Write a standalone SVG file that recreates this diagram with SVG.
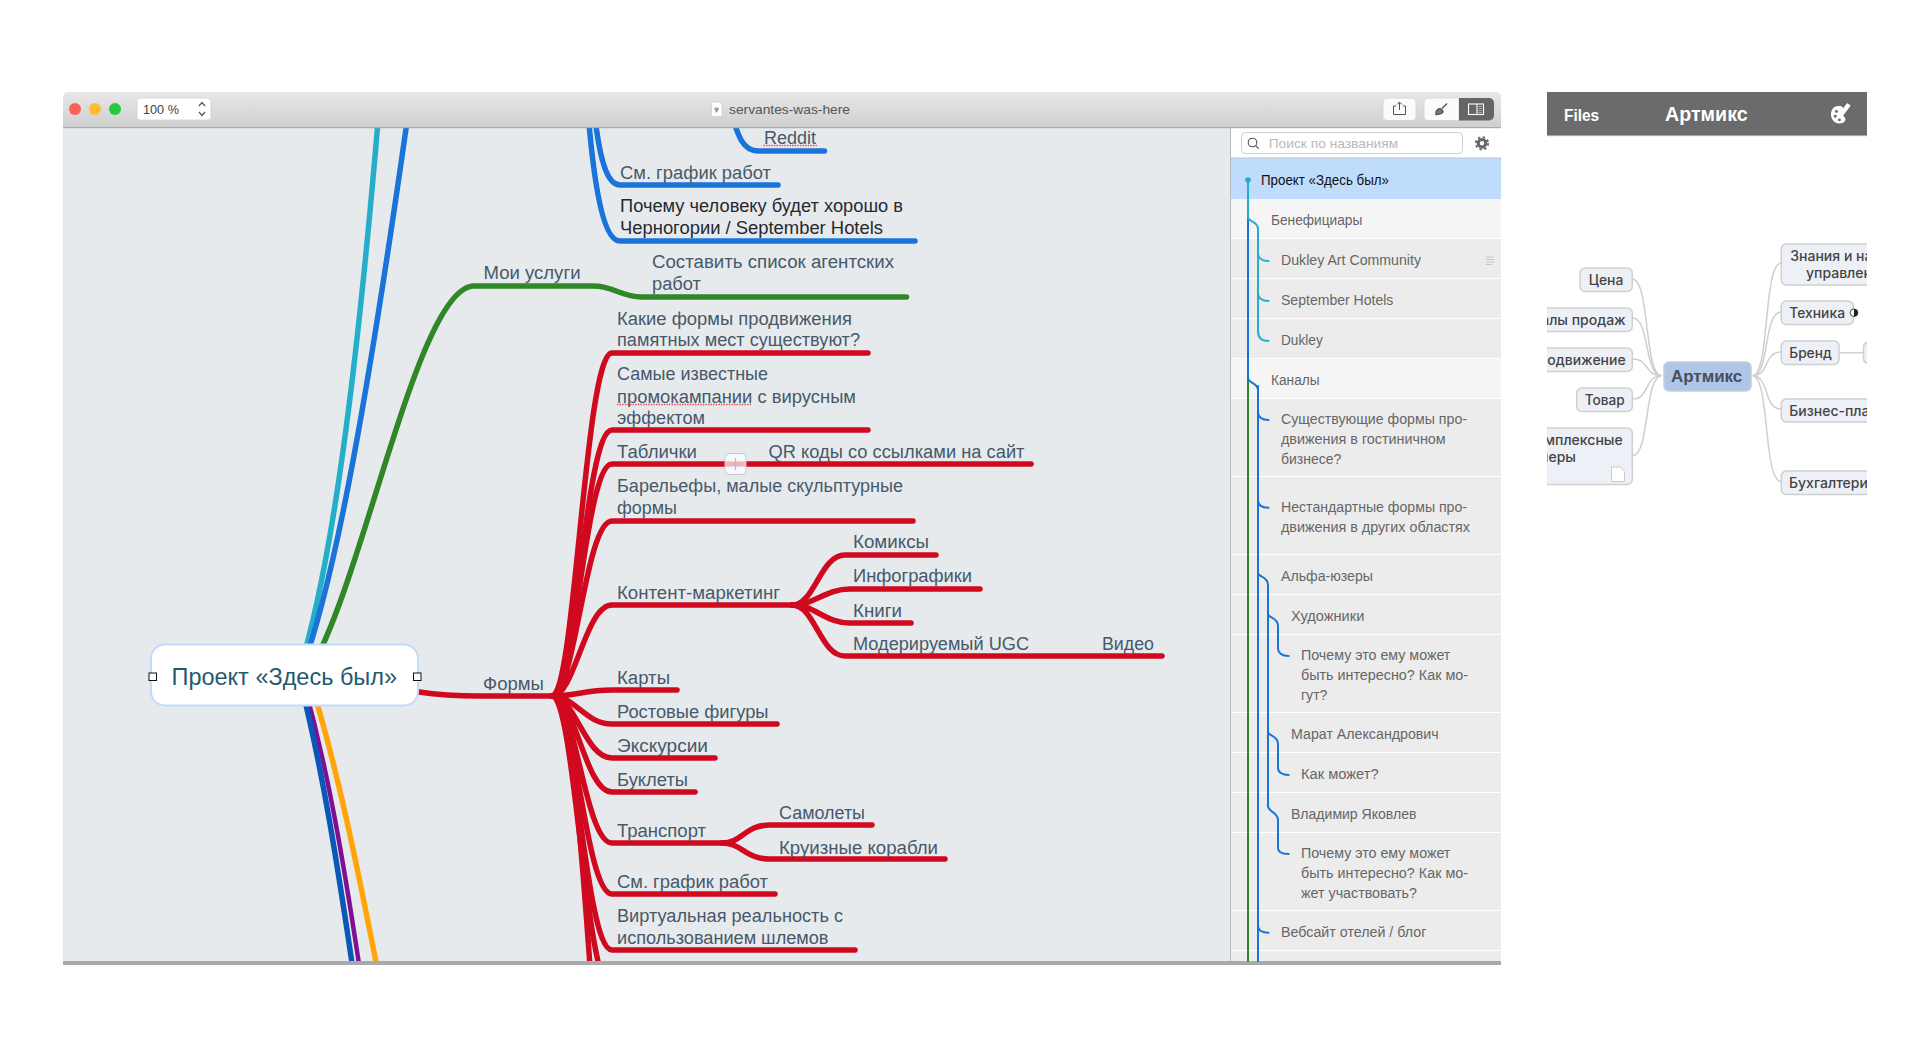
<svg xmlns="http://www.w3.org/2000/svg" width="1930" height="1057" viewBox="0 0 1930 1057">
<style>
text{font-family:"Liberation Sans",Arial,sans-serif}
.m{font-size:18px;fill:#46596a}
.d{font-size:18px;fill:#25292d}
.s{font-size:14px;fill:#666}
.c{fill:none;stroke-width:5.5;stroke-linecap:round;stroke-linejoin:round}
.r{stroke:#d0091f}.b{stroke:#1a73d9}.g{stroke:#2f8728}
.t{fill:none;stroke-width:2;stroke-linecap:round}
.tb{stroke:#1a73d9}.tc{stroke:#25aec9}
.row{fill:#ececec}.row1{fill:#f5f5f5}
.sep{stroke:#fff;stroke-width:1}
.k{fill:#eef0f8;stroke:#cfcfcf;stroke-width:1.5}
.kt{font-family:Inter,"Liberation Sans",sans-serif;font-weight:500;font-size:14px;fill:#444}
.kl{fill:none;stroke:#cfcfcf;stroke-width:1.5}
.u{fill:none;stroke:#e8474c;stroke-width:1.4;stroke-dasharray:1.4 1.2}
</style>
<defs>
<linearGradient id="tbg" x1="0" y1="0" x2="0" y2="1"><stop offset="0" stop-color="#e8e8e8"/><stop offset="1" stop-color="#cecece"/></linearGradient>
<clipPath id="canvas"><rect x="63" y="128" width="1168" height="833"/></clipPath>
<clipPath id="phone"><rect x="1547" y="92" width="320" height="420"/></clipPath>
</defs>
<rect width="1930" height="1057" fill="#fff"/>

<g id="window">
<rect x="63" y="128" width="1168" height="833" fill="#e7eaed"/>
<rect x="1231" y="128" width="270" height="833" fill="#fff"/>
<rect x="63" y="961" width="1438" height="4" fill="#a9a9a9"/>
<rect x="1230" y="128" width="1" height="833" fill="#b9b9b9"/>
</g>

<g id="connectors" clip-path="url(#canvas)">
<path class="c" stroke="#25aec9" d="M298 675C325 590 358 420 392-60"/>
<path class="c b" d="M300 675C332 590 368 420 432-60"/>
<path class="c g" d="M310 670C364 580 418 286 474 286L593 286C615 286 620 297 642 297L906.500 297"/>
<path class="c" stroke="#ffa50a" d="M310 680C335 760 353 840 395 1060"/>
<path class="c" stroke="#800f96" d="M303 680C325 760 342 840 373 1060" style="stroke-width:4.5"/>
<path class="c" stroke="#0a57b8" d="M300 680C320 760 335 840 366 1060"/>
<path class="c b" d="M730 110C738 135 742 151 758 151L824.500 151"/>
<path class="c b" d="M585-60C590 60 592 185 620 185L778 185"/>
<path class="c b" d="M578-100C583 60 590 241 620 241L915 241"/>
<path class="c r" d="M419 692C445 696 470 696 480 696L552 696"/>
<path class="c r" d="M552 696C575 696 585 353 612 353L868 353"/>
<path class="c r" d="M552 696C575 696 585 430 612 430L868 430"/>
<path class="c r" d="M552 696C575 696 585 464 612 464L1031 464"/>
<path class="c r" d="M552 696C575 696 585 521 612 521L913 521"/>
<path class="c r" d="M552 696C575 696 585 605 612 605L792 605"/>
<path class="c r" d="M792 605C815 605 820 555 845 555L936 555"/>
<path class="c r" d="M792 605C815 605 825 589 850 589L980 589"/>
<path class="c r" d="M792 605C815 605 825 623 850 623L911 623"/>
<path class="c r" d="M792 605C815 605 820 656 845 656L1162 656"/>
<path class="c r" d="M552 696C575 696 585 690 612 690L677 690"/>
<path class="c r" d="M552 696C575 696 585 724 612 724L777 724"/>
<path class="c r" d="M552 696C575 696 585 758 612 758L715 758"/>
<path class="c r" d="M552 696C575 696 585 792 612 792L695 792"/>
<path class="c r" d="M552 696C575 696 585 843 612 843L722 843"/>
<path class="c r" d="M722 843C742 843 745 825 770 825L872 825"/>
<path class="c r" d="M722 843C742 843 745 859 770 859L945 859"/>
<path class="c r" d="M552 696C575 696 585 894 612 894L775 894"/>
<path class="c r" d="M552 696C575 696 585 950 612 950L855 950"/>
<path class="c r" d="M552 696C575 696 585 990 612 990L700 990"/>
<path class="c r" d="M552 696C585 696 592 1150 612 1150L700 1150"/>
</g>

<g id="node-root">
<rect x="151" y="644.5" width="267" height="61" rx="14" fill="#fff" stroke="#bfdcff" stroke-width="2"/>
<text x="171.5" y="685" font-size="24" fill="#1f5a6e" textLength="225.5" lengthAdjust="spacingAndGlyphs">Проект «Здесь был»</text>
<rect x="149" y="673" width="7.5" height="7.5" fill="#fff" stroke="#111"/>
<rect x="413.5" y="673" width="7.5" height="7.5" fill="#fff" stroke="#111"/>
</g>

<g id="node-reddit"><text class="m" x="764" y="143.5" textLength="52" lengthAdjust="spacingAndGlyphs">Reddit</text><path class="u" d="M763.500 145.500H817.500"/></g>
<g id="node-blue-grafik"><text class="m" x="620" y="178.500" textLength="151" lengthAdjust="spacingAndGlyphs">См. график работ</text></g>
<g id="node-chernogoria"><text class="d" x="620" y="212" textLength="283" lengthAdjust="spacingAndGlyphs">Почему человеку будет хорошо в</text><text class="d" x="620" y="234" textLength="263" lengthAdjust="spacingAndGlyphs">Черногории / September Hotels</text></g>
<g id="node-uslugi"><text class="m" x="483.500" y="279" textLength="97" lengthAdjust="spacingAndGlyphs">Мои услуги</text></g>
<g id="node-agent"><text class="m" x="652" y="268" textLength="242" lengthAdjust="spacingAndGlyphs">Составить список агентских</text><text class="m" x="652" y="290" textLength="49" lengthAdjust="spacingAndGlyphs">работ</text></g>
<g id="node-kakie"><text class="m" x="617" y="324.500" textLength="235" lengthAdjust="spacingAndGlyphs">Какие формы продвижения</text><text class="m" x="617" y="346" textLength="243" lengthAdjust="spacingAndGlyphs">памятных мест существуют?</text></g>
<g id="node-samye"><text class="m" x="617" y="380" textLength="151" lengthAdjust="spacingAndGlyphs">Самые известные</text><text class="m" x="617" y="402.500" textLength="239" lengthAdjust="spacingAndGlyphs">промокампании с вирусным</text><path class="u" d="M617 404.500H752"/><text class="m" x="617" y="424" textLength="88" lengthAdjust="spacingAndGlyphs">эффектом</text></g>
<g id="node-tablichki"><text class="m" x="617" y="457.500" textLength="80" lengthAdjust="spacingAndGlyphs">Таблички</text></g>
<g id="node-qr"><text class="m" x="768.500" y="457.500" textLength="256" lengthAdjust="spacingAndGlyphs">QR коды со ссылками на сайт</text></g>
<g id="node-barelefy"><text class="m" x="617" y="491.500" textLength="286" lengthAdjust="spacingAndGlyphs">Барельефы, малые скульптурные</text><text class="m" x="617" y="513.500" textLength="60" lengthAdjust="spacingAndGlyphs">формы</text></g>
<g id="node-kontent"><text class="m" x="617" y="598.500" textLength="163" lengthAdjust="spacingAndGlyphs">Контент-маркетинг</text></g>
<g id="node-komiksy"><text class="m" x="853" y="547.500" textLength="76" lengthAdjust="spacingAndGlyphs">Комиксы</text></g>
<g id="node-info"><text class="m" x="853" y="582" textLength="119" lengthAdjust="spacingAndGlyphs">Инфографики</text></g>
<g id="node-knigi"><text class="m" x="853" y="616.500" textLength="49" lengthAdjust="spacingAndGlyphs">Книги</text></g>
<g id="node-ugc"><text class="m" x="853" y="650" textLength="176" lengthAdjust="spacingAndGlyphs">Модерируемый UGC</text></g>
<g id="node-video"><text class="m" x="1102" y="650" textLength="52" lengthAdjust="spacingAndGlyphs">Видео</text></g>
<g id="node-formy"><text class="m" x="483" y="689.500" textLength="61" lengthAdjust="spacingAndGlyphs">Формы</text></g>
<g id="node-karty"><text class="m" x="617" y="683.500" textLength="53" lengthAdjust="spacingAndGlyphs">Карты</text></g>
<g id="node-rostovye"><text class="m" x="617" y="717.500" textLength="151.500" lengthAdjust="spacingAndGlyphs">Ростовые фигуры</text></g>
<g id="node-ekskursii"><text class="m" x="617" y="751.500" textLength="91" lengthAdjust="spacingAndGlyphs">Экскурсии</text></g>
<g id="node-buklety"><text class="m" x="617" y="785.500" textLength="71" lengthAdjust="spacingAndGlyphs">Буклеты</text></g>
<g id="node-samolety"><text class="m" x="779" y="818.500" textLength="86" lengthAdjust="spacingAndGlyphs">Самолеты</text></g>
<g id="node-transport"><text class="m" x="617" y="836.500" textLength="89" lengthAdjust="spacingAndGlyphs">Транспорт</text></g>
<g id="node-korabli"><text class="m" x="779" y="853.500" textLength="159" lengthAdjust="spacingAndGlyphs">Круизные корабли</text></g>
<g id="node-red-grafik"><text class="m" x="617" y="887.500" textLength="151" lengthAdjust="spacingAndGlyphs">См. график работ</text></g>
<g id="node-vr"><text class="m" x="617" y="921.500" textLength="226" lengthAdjust="spacingAndGlyphs">Виртуальная реальность с</text><text class="m" x="617" y="943.500" textLength="211.500" lengthAdjust="spacingAndGlyphs">использованием шлемов</text></g>

<g id="add-button">
<rect x="725" y="453.500" width="21" height="21" rx="4" fill="#fff" fill-opacity=".72" stroke="#c9c9c9"/>
<path d="M729 464H742M735.500 458V470" stroke="#bbb" stroke-width="1.200" fill="none"/>
</g>

<g id="toolbar">
<path d="M63 128V97a5 5 0 0 1 5-5H1496a5 5 0 0 1 5 5V128Z" fill="url(#tbg)"/>
<rect x="63" y="127" width="1438" height="1.200" fill="#ababab"/>
<circle cx="75" cy="109" r="6" fill="#fe5f57"/><circle cx="95" cy="109" r="6" fill="#febb2e"/><circle cx="115" cy="109" r="6" fill="#26c940"/>
<rect x="137" y="98" width="74" height="22" rx="3.500" fill="#fff" stroke="#d0d0d0" stroke-width=".8"/>
<text x="143" y="114" font-size="13.500" fill="#444" textLength="36" lengthAdjust="spacingAndGlyphs">100 %</text>
<path d="M199 106l3-3.500 3 3.500M199 112l3 3.500 3-3.500" fill="none" stroke="#555" stroke-width="1.200"/>
<path d="M711.500 102h7.500l3 3v11.500h-10.500Z" fill="#fff" stroke="#c4c4c4" stroke-width=".6"/>
<path d="M714 108l2.500 5 2.500-5Z" fill="#4a9ad8"/><path d="M714 108l2.500 2 1-3Z" fill="#f0b030"/>
<text x="729" y="114" font-size="13" fill="#555" textLength="121" lengthAdjust="spacingAndGlyphs">servantes-was-here</text>
<rect x="1383" y="98" width="33" height="22.500" rx="4" fill="#fbfbfb" stroke="#d4d4d4" stroke-width=".8"/>
<path d="M1396 106h-2.500v8.500h12V106h-2.500M1399.500 110V102M1397 104.500l2.500-2.500 2.500 2.500" fill="none" stroke="#555" stroke-width="1"/>
<path d="M1428 98H1459V120.500H1428a4 4 0 0 1-4-4V102a4 4 0 0 1 4-4Z" fill="#fbfbfb" stroke="#d4d4d4" stroke-width=".8"/>
<path d="M1459 98H1489a5 5 0 0 1 5 5v12.500a5 5 0 0 1-5 5H1459Z" fill="#656565"/>
<path d="M1436 112c1.500-3 3.500-3.500 5-3l2 2c.3 2-2 3.500-7 3.500ZM1442 108.500l5-5" fill="#777" stroke="#555" stroke-width="1.400"/>
<rect x="1468.500" y="104" width="15" height="10.500" fill="none" stroke="#fff" stroke-width="1.100"/>
<path d="M1477 104V114.500" stroke="#fff" stroke-width="1.100" fill="none"/><path d="M1478.500 106.500h3.500M1478.500 108.500h3.500M1478.500 110.500h3.500M1478.500 112.500h3.500" stroke="#bbb" stroke-width=".8" fill="none"/>
</g>

<g id="outline-rows">
<rect x="1231" y="199" width="270" height="40" class="row1"/>
<rect x="1231" y="239" width="270" height="120" class="row"/>
<rect x="1231" y="359" width="270" height="40" class="row1"/>
<rect x="1231" y="399" width="270" height="562" class="row"/>
<path class="sep" d="M1231 238.500H1501M1231 278.500H1501M1231 318.500H1501M1231 358.500H1501M1231 398.500H1501M1231 476.500H1501M1231 554.500H1501M1231 594.500H1501M1231 634.500H1501M1231 712.500H1501M1231 752.500H1501M1231 792.500H1501M1231 832.500H1501M1231 910.500H1501M1231 950.500H1501"/>
<rect x="1231" y="158" width="270" height="41" fill="#bfdcfd"/>
<rect x="1231" y="157.500" width="270" height="1" fill="#c4c4c4"/>
</g>

<g id="outline-search">
<rect x="1241.500" y="132.500" width="221" height="21" rx="4" fill="#fff" stroke="#cfcfcf"/>
<circle cx="1252.500" cy="142.500" r="4.300" fill="none" stroke="#555" stroke-width="1.100"/><path d="M1255.700 145.700l3 3" stroke="#555" stroke-width="1.200"/>
<text x="1268.700" y="147.700" font-size="13" fill="#b9b9b9" textLength="129.500" lengthAdjust="spacingAndGlyphs">Поиск по названиям</text>
<circle cx="1482" cy="143.300" r="3.800" fill="none" stroke="#666" stroke-width="3.200"/>
<circle cx="1482" cy="143.300" r="6.200" fill="none" stroke="#666" stroke-width="1.800" stroke-dasharray="2.400 2.470"/>
</g>

<g id="outline-connectors">
<path class="t" stroke="#2f8728" d="M1248 378V961" style="stroke:#2f8728"/>
<path class="t tb" d="M1258 386V961M1248 217V378C1248 383 1258 383 1258 390"/>
<path class="t tc" d="M1248 180V217C1248 222 1258 221 1258 229V331C1258 338 1262 341 1268.500 341M1258 253C1258 258 1262 261 1268.500 261M1258 293C1258 298 1262 301 1268.500 301"/>
<circle cx="1248" cy="180" r="2.800" fill="#25aec9"/>
<path class="t tb" d="M1258 412C1258 417 1262 420 1268.500 420M1258 500C1258 505 1262 507.700 1268.500 507.700M1258 573C1258 577 1268 576 1268 585V806C1268 812 1278 812 1278 820V848C1278 852 1282 854 1288.700 854"/>
<path class="t tb" d="M1268 614C1268 618 1278 617 1278 626V648C1278 653 1282 656 1288.700 656M1268 732C1268 736 1278 735 1278 744V768C1278 772 1282 775 1288.700 775M1258 926C1258 930 1262 932.700 1268.500 932.700"/>
</g>

<g id="outline-items">
<g id="o1"><text x="1261" y="185" font-size="14" fill="#111" textLength="128" lengthAdjust="spacingAndGlyphs">Проект «Здесь был»</text></g>
<g id="o2"><text class="s" x="1271" y="224.500" textLength="91.300" lengthAdjust="spacingAndGlyphs">Бенефициары</text></g>
<g id="o3"><text class="s" x="1281" y="264.500" textLength="140" lengthAdjust="spacingAndGlyphs">Dukley Art Community</text><path d="M1486 257h8M1486 259.500h8M1486 262h8M1486 264.500h6" stroke="#c6c6c6" fill="none"/></g>
<g id="o4"><text class="s" x="1281" y="304.500" textLength="112.400" lengthAdjust="spacingAndGlyphs">September Hotels</text></g>
<g id="o5"><text class="s" x="1281" y="344.500" textLength="41.700" lengthAdjust="spacingAndGlyphs">Dukley</text></g>
<g id="o6"><text class="s" x="1271" y="384.500" textLength="48.600" lengthAdjust="spacingAndGlyphs">Каналы</text></g>
<g id="o7"><text class="s" x="1281" y="423.500" textLength="186" lengthAdjust="spacingAndGlyphs">Существующие формы про-</text><text class="s" x="1281" y="443.500" textLength="164.700" lengthAdjust="spacingAndGlyphs">движения в гостиничном</text><text class="s" x="1281" y="463.500" textLength="60.400" lengthAdjust="spacingAndGlyphs">бизнесе?</text></g>
<g id="o8"><text class="s" x="1281" y="511.700" textLength="186" lengthAdjust="spacingAndGlyphs">Нестандартные формы про-</text><text class="s" x="1281" y="531.700" textLength="189" lengthAdjust="spacingAndGlyphs">движения в других областях</text></g>
<g id="o9"><text class="s" x="1281" y="581" textLength="92" lengthAdjust="spacingAndGlyphs">Альфа-юзеры</text></g>
<g id="o10"><text class="s" x="1291" y="621" textLength="73.300" lengthAdjust="spacingAndGlyphs">Художники</text></g>
<g id="o11"><text class="s" x="1301" y="659.500" textLength="149.400" lengthAdjust="spacingAndGlyphs">Почему это ему может</text><text class="s" x="1301" y="679.500" textLength="167" lengthAdjust="spacingAndGlyphs">быть интересно? Как мо-</text><text class="s" x="1301" y="699.500" textLength="26.400" lengthAdjust="spacingAndGlyphs">гут?</text></g>
<g id="o12"><text class="s" x="1291" y="738.500" textLength="147.700" lengthAdjust="spacingAndGlyphs">Марат Александрович</text></g>
<g id="o13"><text class="s" x="1301" y="778.500" textLength="77.700" lengthAdjust="spacingAndGlyphs">Как может?</text></g>
<g id="o14"><text class="s" x="1291" y="818.500" textLength="125.400" lengthAdjust="spacingAndGlyphs">Владимир Яковлев</text></g>
<g id="o15"><text class="s" x="1301" y="858" textLength="149.400" lengthAdjust="spacingAndGlyphs">Почему это ему может</text><text class="s" x="1301" y="878" textLength="167" lengthAdjust="spacingAndGlyphs">быть интересно? Как мо-</text><text class="s" x="1301" y="898" textLength="116" lengthAdjust="spacingAndGlyphs">жет участвовать?</text></g>
<g id="o16"><text class="s" x="1281" y="937" textLength="145.400" lengthAdjust="spacingAndGlyphs">Вебсайт отелей / блог</text></g>
</g>

<g id="phone-panel" clip-path="url(#phone)">
<g id="phone-header">
<rect x="1547" y="92" width="320" height="44" fill="#6b6b6b"/>
<rect x="1547" y="135.500" width="320" height="1" fill="#e4e4e4"/>
<text x="1564" y="120.500" font-family="Inter,sans-serif" font-weight="600" font-size="16" fill="#fff" textLength="35" lengthAdjust="spacingAndGlyphs">Files</text>
<text x="1665" y="121" font-family="Inter,sans-serif" font-weight="600" font-size="19.500" fill="#fff" textLength="82.700" lengthAdjust="spacingAndGlyphs">Артмикс</text>
<g transform="translate(1840 114.500) scale(1.200) translate(-1838 -114.500)">
<path d="M1838 107.500c-5-1-7.500 3-7.500 7 0 4 3 7.500 7 7.500 3 0 5-1.500 5-3.500 0-2-2-2-1.500-3.500l5-8-2-2-3.500 4.500c0-1-1-2-2.500-2Z" fill="#fff"/>
<path d="M1846 106.500l-5 6.500" stroke="#fff" stroke-width="2.200"/>
<circle cx="1835" cy="112" r="1.200" fill="#6b6b6b"/><circle cx="1834" cy="116" r="1.200" fill="#6b6b6b"/><circle cx="1837.500" cy="119" r="1.200" fill="#6b6b6b"/>
</g>
</g>

<g id="phone-connectors">
<path class="kl" d="M1661.700 375.700C1644 375.700 1650 279 1632.300 279M1661.700 375.700C1644 375.700 1650 318 1632.300 318M1661.700 375.700C1644 375.700 1650 359 1632.300 359M1661.700 375.700C1644 375.700 1650 399 1632.300 399M1661.700 375.700C1644 375.700 1650 455.700 1632.300 455.700"/>
<path class="kl" d="M1752.300 375.700C1770 375.700 1763 263 1781.300 263M1752.300 375.700C1770 375.700 1763 312 1781.300 312M1752.300 375.700C1770 375.700 1763 352 1781.300 352M1752.300 375.700C1770 375.700 1763 409 1781.300 409M1752.300 375.700C1770 375.700 1763 481.700 1781.300 481.700M1839 352.700H1864"/>
</g>

<g id="k-center"><rect x="1664" y="362" width="87" height="29" rx="5" fill="#aec6e8" stroke="#c8ccd6" stroke-width="1.500"/><text x="1671" y="381.700" font-family="Inter,sans-serif" font-weight="600" font-size="17" fill="#46505c" textLength="71.300" lengthAdjust="spacingAndGlyphs">Артмикс</text></g>
<g id="k-cena"><rect class="k" x="1580" y="268" width="52.300" height="23.500" rx="5"/><text class="kt" x="1588.700" y="284.700" textLength="34.600" lengthAdjust="spacingAndGlyphs">Цена</text></g>
<g id="k-kanaly"><rect class="k" x="1530" y="308" width="102.300" height="23.500" rx="5"/><text class="kt" x="1625.700" y="325" text-anchor="end">алы продаж</text></g>
<g id="k-prodv"><rect class="k" x="1530" y="348" width="102.300" height="23.500" rx="5"/><text class="kt" x="1625.700" y="365" text-anchor="end">одвижение</text></g>
<g id="k-tovar"><rect class="k" x="1576.700" y="388" width="55.600" height="23.500" rx="5"/><text class="kt" x="1584.700" y="405" textLength="40" lengthAdjust="spacingAndGlyphs">Товар</text></g>
<g id="k-kompl"><rect class="k" x="1530" y="428" width="102.300" height="56.500" rx="5"/><text class="kt" x="1622.700" y="445" text-anchor="end">мплексные</text><text class="kt" x="1576" y="462.300" text-anchor="end">неры</text><path d="M1611.500 467h9l4 4.500V481.500h-13Z" fill="#fff" stroke="#c9c9c9"/></g>
<g id="k-znania"><rect class="k" x="1781.300" y="244" width="110" height="41" rx="5"/><text class="kt" x="1790.300" y="261">Знания и на</text><text class="kt" x="1806" y="278.300">управлен</text></g>
<g id="k-tehnika"><rect class="k" x="1781.300" y="301" width="72" height="23.500" rx="5"/><text class="kt" x="1789.300" y="318" textLength="55.700" lengthAdjust="spacingAndGlyphs">Техника</text><circle cx="1854" cy="312.700" r="3.800" fill="#fff" stroke="#222" stroke-width=".8"/><path d="M1854 308.900a3.800 3.800 0 0 1 0 7.600Z" fill="#222"/></g>
<g id="k-brend"><rect class="k" x="1781.300" y="341" width="57.700" height="23.500" rx="5"/><text class="kt" x="1789.300" y="358" textLength="42.400" lengthAdjust="spacingAndGlyphs">Бренд</text></g>
<g id="k-brend-child"><rect class="k" x="1863.500" y="342" width="40" height="21.500" rx="5"/></g>
<g id="k-biznes"><rect class="k" x="1781.300" y="399" width="110" height="23" rx="5"/><text class="kt" x="1789.300" y="415.700">Бизнес-пла</text></g>
<g id="k-buh"><rect class="k" x="1781.300" y="471" width="110" height="23.500" rx="5"/><text class="kt" x="1789" y="487.700">Бухгалтери</text></g>
</g>
</svg>
